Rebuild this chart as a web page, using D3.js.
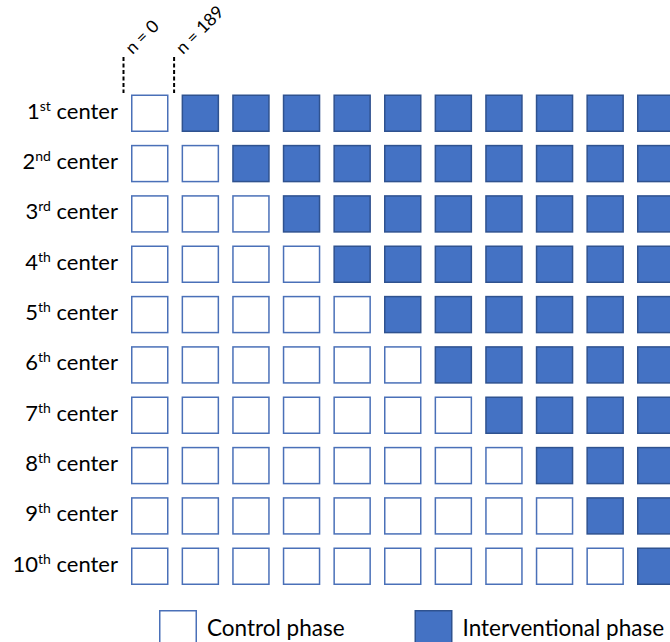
<!DOCTYPE html>
<html>
<head>
<meta charset="utf-8">
<script src="https://cdn.jsdelivr.net/npm/d3@7"></script>
<style>
  html, body { margin: 0; padding: 0; background: #fff; overflow: hidden; }
  svg { display: block; font-family: Lato, "Open Sans", sans-serif; }
</style>
</head>
<body>
<svg id="chart" width="670" height="642"></svg>
<script>
// stepped-wedge layout: each center crosses from control to intervention one period later
const centers = ['1', '2', '3', '4', '5', '6', '7', '8', '9', '10'];
const ordinals = ['st', 'nd', 'rd', 'th', 'th', 'th', 'th', 'th', 'th', 'th'];
const crossover = [1, 2, 3, 4, 5, 6, 7, 8, 9, 10];   // first interventional period per center
const periods = d3.range(11);
const markerLabels = ['n = 0', 'n = 189'];
const markerAt = [0, 1];                              // period boundary the marker sits on
const legendLabels = ['Control phase', 'Interventional phase'];

const CELL = 37.5;
const BLUE = '#4472c4', BLUE_DARK = '#2f528f', BLUE_LINE = '#4a70b8';

const svg = d3.select('#chart');

const x = d3.scaleLinear().domain([0, 10]).range([131, 637]);
const y = d3.scaleLinear().domain([0, 9]).range([94.5, 547.5]);

// ── grid of cells
const cells = [];
centers.forEach((c, r) => periods.forEach((p) => cells.push({ r, p, on: p >= crossover[r] })));

svg.append('g').attr('class', 'cells')
  .selectAll('rect').data(cells).enter().append('rect')
  .attr('x', (d) => x(d.p) + 0.75)
  .attr('y', (d) => y(d.r) + 0.75)
  .attr('width', CELL - 1.5)
  .attr('height', CELL - 1.5)
  .attr('fill', (d) => d.on ? BLUE : '#fff')
  .attr('stroke', (d) => d.on ? BLUE_DARK : BLUE_LINE)
  .attr('stroke-width', 1.5);

// ── row labels with ordinal superscript
const rows = svg.append('g').attr('class', 'rows')
  .selectAll('text').data(centers).enter().append('text')
  .attr('x', 118)
  .attr('y', (d, i) => y(i) + CELL / 2 + 5.5)
  .attr('text-anchor', 'end')
  .attr('font-size', 22)
  .attr('fill', '#000');
rows.append('tspan').text((d) => d);
rows.append('tspan').attr('font-size', 14).attr('dy', -8).text((d, i) => ordinals[i]);
rows.append('tspan').attr('dy', 8).text(' center');

// ── sample-size markers: dashed tick + rotated label
const marks = svg.append('g').attr('class', 'markers')
  .selectAll('g').data(markerLabels).enter().append('g')
  .attr('transform', (d, i) => `translate(${x(markerAt[i]) - 7.5},0)`);
marks.append('line')
  .attr('y1', 57).attr('y2', 93)
  .attr('stroke', '#000').attr('stroke-width', 2)
  .attr('stroke-dasharray', '4,2.5');
marks.append('text')
  .attr('transform', 'translate(9,55) rotate(-45)')
  .attr('font-size', 17.5)
  .text((d) => d);

// ── legend
const legX = [159, 414.5];
const leg = svg.append('g').attr('class', 'legend')
  .selectAll('g').data(legendLabels).enter().append('g')
  .attr('transform', (d, i) => `translate(${legX[i]},610)`);
leg.append('rect')
  .attr('x', 0.75).attr('y', 0.75)
  .attr('width', 36.5).attr('height', 40)
  .attr('fill', (d, i) => i ? BLUE : '#fff')
  .attr('stroke', (d, i) => i ? BLUE_DARK : BLUE_LINE)
  .attr('stroke-width', 1.5);
leg.append('text')
  .attr('x', 48).attr('y', 26)
  .attr('font-size', 22.5)
  .text((d) => d);
</script>
</body>
</html>
